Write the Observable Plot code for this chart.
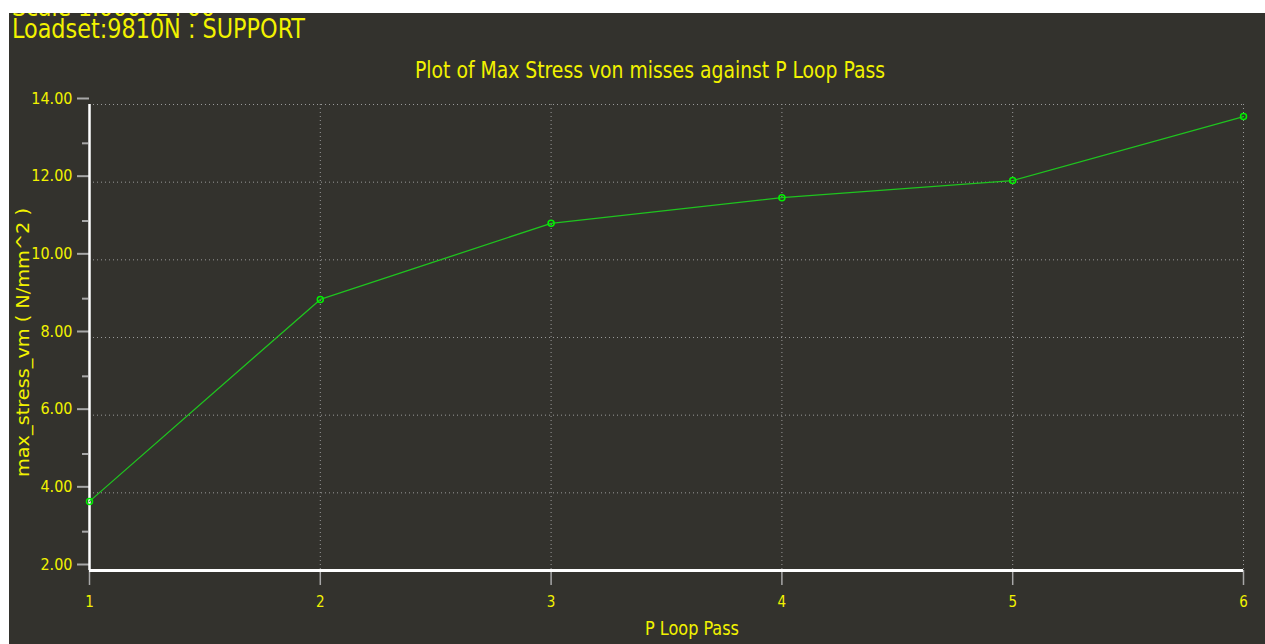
<!DOCTYPE html>
<html><head><meta charset="utf-8">
<script src="https://cdn.jsdelivr.net/npm/d3@7"></script>
<script src="https://cdn.jsdelivr.net/npm/@observablehq/plot@0.6"></script>
<style>
html,body{margin:0;padding:0;background:#fff;overflow:hidden;}
#panel{position:absolute;left:9px;top:13px;width:1256px;height:631px;background:#33322d;overflow:hidden;}
#panel svg{position:absolute;left:0;top:0;}
#cover{position:absolute;left:0;top:0;width:1265px;height:13px;background:#fff;z-index:5;}
</style></head><body>
<div id="panel"></div>
<div id="cover"></div>
<script>
const passes = [1, 2, 3, 4, 5, 6];
const stress = [3.78, 8.98, 10.94, 11.60, 12.04, 13.69];
const yMajor = [2, 4, 6, 8, 10, 12, 14];
const yMinor = [3, 5, 7, 9, 11, 13];
const yGrid = [4, 6, 8, 10, 12, 14];
const xGrid = [2, 3, 4, 5, 6];
const scaleLine = "Scale  1.0000E+00";
const header = "Loadset:9810N :  SUPPORT";
const title = "Plot of Max Stress von misses against P Loop Pass";
const xLabel = "P Loop Pass";
const yLabel = "max_stress_vm ( N/mm^2 )";

const data = passes.map((p, i) => ({pass: p, stress: stress[i]}));
const YEL = "#f2f200";
const FONT = '"Liberation Sans Narrow","DejaVu Sans Condensed",sans-serif';

const chart = Plot.plot({
  width: 1256, height: 631,
  marginLeft: 80, marginRight: 22, marginTop: 91, marginBottom: 74,
  style: {background: "transparent", color: YEL, fontFamily: FONT, fontSize: "16px", overflow: "visible"},
  x: {domain: [1, 6]},
  y: {domain: [2, 14]},
  marks: [
    Plot.gridY(yGrid, {stroke: "#9a9a9a", strokeOpacity: 1, strokeDasharray: "1,3"}),
    Plot.gridX(xGrid, {stroke: "#9a9a9a", strokeOpacity: 1, strokeDasharray: "1,3"}),
    Plot.axisY(yMajor, {tickSize: 12, tickPadding: 5, stroke: "#a8a8a8", strokeWidth: 2, tickFormat: d3.format(".2f"), dy: -6, label: null, fontSize: 16}),
    Plot.axisY(yMinor, {tickSize: 6, tickPadding: 0, stroke: "#a8a8a8", strokeWidth: 2, tickFormat: () => "", dx: -1, label: null}),
    Plot.axisX(passes, {tickSize: 15, tickPadding: 11, stroke: "#a8a8a8", strokeWidth: 1.5, tickFormat: d => String(d), label: null, fontSize: 15}),
    Plot.ruleX([1], {stroke: "#ffffff", strokeWidth: 2.5}),
    Plot.ruleY([2], {stroke: "#ffffff", strokeWidth: 3}),
    Plot.line(data, {x: "pass", y: "stress", stroke: "#1fc41f", strokeWidth: 1.3}),
    Plot.dot(data, {x: "pass", y: "stress", r: 3, stroke: "#00f000", strokeWidth: 1.5, fill: "none"})
  ]
});
const panel = document.getElementById("panel");
panel.appendChild(chart);

// overlay texts
const ns = "http://www.w3.org/2000/svg";
const ov = document.createElementNS(ns, "svg");
ov.setAttribute("width", 1256); ov.setAttribute("height", 631);
ov.style.fontFamily = FONT;
ov.style.overflow = "hidden";
panel.appendChild(ov);
function addText(str, x, y, size, len, rot) {
  const t = document.createElementNS(ns, "text");
  t.textContent = str;
  t.setAttribute("fill", YEL);
  t.setAttribute("font-size", size);
  t.setAttribute("textLength", len);
  t.setAttribute("lengthAdjust", "spacingAndGlyphs");
  if (rot) {
    t.setAttribute("transform", `translate(${x},${y}) rotate(-90)`);
  } else {
    t.setAttribute("x", x); t.setAttribute("y", y);
  }
  ov.appendChild(t);
}
addText(scaleLine, 3, 3, 24, 203);
addText(header, 3, 25, 27, 293);
addText(title, 406, 65, 23, 470);
addText(xLabel, 636, 622, 20, 94);
addText(yLabel, 20, 464, 18, 269, true);
</script>
</body></html>
